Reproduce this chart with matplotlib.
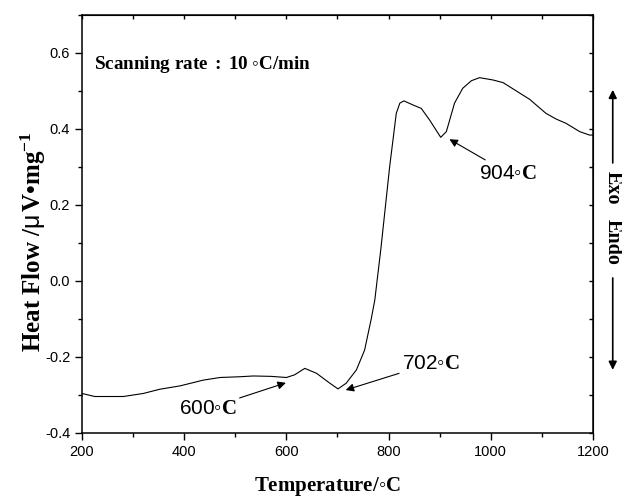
import matplotlib
matplotlib.use("Agg")
import matplotlib.pyplot as plt

plt.rcParams['mathtext.fontset'] = 'custom'
plt.rcParams['mathtext.rm'] = 'Liberation Sans'
plt.rcParams['mathtext.bf'] = 'Liberation Serif:bold'
plt.rcParams['mathtext.it'] = 'Liberation Serif:italic'

# Data
temperature = [200, 225, 281, 320, 352, 392, 437, 470, 509, 535, 570, 600, 616, 636,
               659, 685, 701, 717, 737, 753, 766, 773, 785, 802, 815, 822, 830, 848,
               864, 880, 902, 913, 929, 945, 962, 978, 1004, 1024, 1076, 1108, 1128,
               1147, 1174, 1193, 1200]
heat_flow = [-0.296, -0.304, -0.304, -0.296, -0.285, -0.276, -0.261, -0.254, -0.252,
             -0.250, -0.251, -0.254, -0.247, -0.230, -0.243, -0.269, -0.284, -0.269,
             -0.234, -0.182, -0.100, -0.050, 0.086, 0.300, 0.441, 0.468, 0.474, 0.463,
             0.454, 0.424, 0.378, 0.393, 0.468, 0.507, 0.527, 0.535, 0.529, 0.522,
             0.478, 0.441, 0.426, 0.415, 0.393, 0.384, 0.384]

x_ticks = [200, 400, 600, 800, 1000, 1200]
y_ticks = [-0.4, -0.2, 0.0, 0.2, 0.4, 0.6]
y_tick_labels = ["-0.4", "-0.2", "0.0", "0.2", "0.4", "0.6"]

peaks = [
    # label, arrow head (x, y), text position (x, y), ha
    ("600", (599, -0.268), (503, -0.335), "right"),
    ("702", (716, -0.287), (826, -0.217), "left"),
    ("904", (919, 0.373), (976, 0.285), "left"),
]

fig = plt.figure(figsize=(6.22, 4.99), dpi=100)
ax = fig.add_axes([0.1318, 0.1323, 0.8216, 0.8377])

ax.plot(temperature, heat_flow, color="black", lw=0.8)

ax.set_xlim(200, 1200)
ax.set_ylim(-0.4, 0.7)
ax.set_xticks(x_ticks)
ax.set_yticks(y_ticks)
ax.set_yticklabels(y_tick_labels)
ax.set_xticks(range(300, 1200, 200), minor=True)
ax.set_yticks([-0.3, -0.1, 0.1, 0.3, 0.5, 0.7], minor=True)

for sp in ax.spines.values():
    sp.set_linewidth(1.1)

ax.tick_params(which="both", direction="out", width=1.0, labelsize=10.5,
               top=False, right=False)
ax.tick_params(which="major", length=5)
ax.tick_params(which="minor", length=3)
for lab in ax.get_xticklabels() + ax.get_yticklabels():
    lab.set_fontfamily("Liberation Sans")

# inward ticks on top and right
sec_x = ax.secondary_xaxis("top")
sec_x.set_xticks(list(range(200, 1201, 100)))
sec_x.tick_params(direction="in", length=3, width=1.0, labeltop=False)
sec_y = ax.secondary_yaxis("right")
sec_y.set_yticks([round(-0.4 + 0.1 * i, 1) for i in range(12)])
sec_y.tick_params(direction="in", length=3, width=1.0, labelright=False)

# axis titles
ax.text(0.480, -0.139, r"$\mathbf{Temperature/}\mathrm{◦}\mathbf{C}$",
        transform=ax.transAxes, fontsize=15, ha="center", va="baseline")
ax.text(-0.0944, 0.457,
        r"$\mathbf{Heat\ Flow\ /}\mathrm{\mu}\,\mathbf{V•mg^{-1}}$",
        transform=ax.transAxes, fontsize=18, rotation=90,
        ha="center", va="center")

ax.text(0.0235, 0.881, r"$\mathbf{Scanning\ rate\ :\ 10\ }\mathrm{◦}\mathbf{C/min}$",
        transform=ax.transAxes, fontsize=13.8, ha="left", va="center")

for lab, head, txt, ha in peaks:
    ax.annotate(r"$\mathrm{%s◦}\mathbf{C}$" % lab, xy=head, xytext=txt,
                fontsize=15, ha=ha, va="center",
                arrowprops=dict(arrowstyle="-|>", color="black", lw=0.8,
                                mutation_scale=12, shrinkA=0, shrinkB=0))

# Exo / Endo indicator on the right
ax.annotate("", xy=(1.0386, 0.821), xytext=(1.0386, 0.646),
            xycoords="axes fraction", textcoords="axes fraction",
            arrowprops=dict(arrowstyle="-|>", color="black", lw=1.2,
                            mutation_scale=12, shrinkA=0, shrinkB=0),
            annotation_clip=False)
ax.annotate("", xy=(1.0386, 0.151), xytext=(1.0386, 0.371),
            xycoords="axes fraction", textcoords="axes fraction",
            arrowprops=dict(arrowstyle="-|>", color="black", lw=1.2,
                            mutation_scale=12, shrinkA=0, shrinkB=0),
            annotation_clip=False)
ax.text(1.0386, 0.587, "Exo", transform=ax.transAxes, rotation=-90,
        ha="center", va="center", fontsize=14.5, fontweight="bold",
        family="Liberation Serif")
ax.text(1.0386, 0.456, "Endo", transform=ax.transAxes, rotation=-90,
        ha="center", va="center", fontsize=14.5, fontweight="bold",
        family="Liberation Serif")

fig.savefig("out.png", dpi=100)
